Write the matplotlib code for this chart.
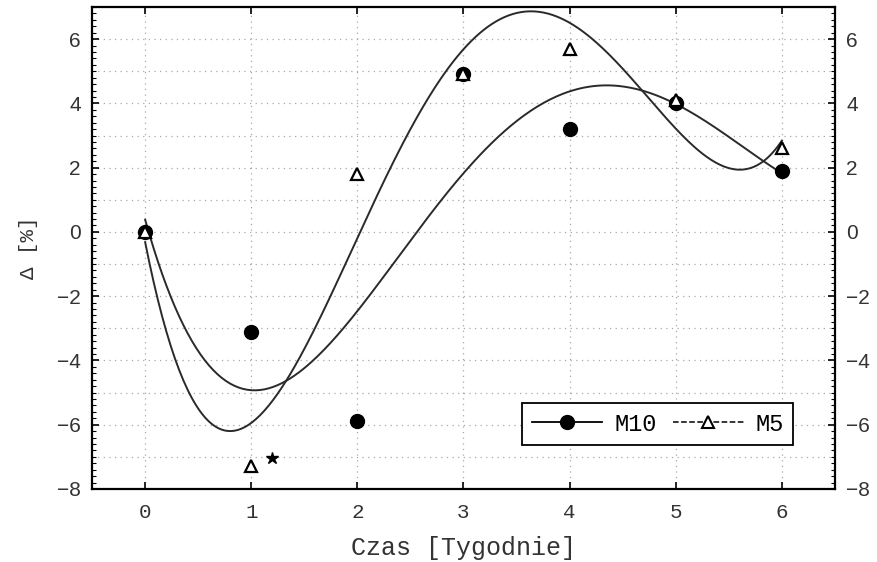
import numpy as np
import matplotlib.pyplot as plt
from matplotlib.lines import Line2D
from matplotlib.ticker import MultipleLocator

# Data
weeks = [0, 1, 2, 3, 4, 5, 6]
m10 = [0.0, -3.1, -5.9, 4.9, 3.2, 4.0, 1.9]
m5 = [0.0, -7.3, 1.8, 4.9, 5.7, 4.1, 2.6]

# significance mark near week 1
star_x = 1.2
star_y = -7.05

fit_degree = 4

mono = 'Liberation Mono'
sans = 'Liberation Sans'
grid_style = dict(color='#a8a8a8', linestyle=(0, (1, 3.5)), linewidth=0.9)

fig = plt.figure(figsize=(8.77, 5.62), dpi=100)
ax = fig.add_axes([0.105, 0.130, 0.847, 0.8575])

ax.set_xlim(-0.5, 6.5)
ax.set_ylim(-8, 7)
ax.set_xticks(weeks)
ax.set_yticks(np.arange(-8, 7, 2))
ax.yaxis.set_minor_locator(MultipleLocator(0.2))

# dotted grid: every week, every unit on y
ax.grid(True, which='major', **grid_style)
for yv in np.arange(-7, 7, 2):
    ax.axhline(yv, zorder=0, **grid_style)

# 4th order polynomial fits over the data
xs = np.linspace(0, 6, 300)
p10 = np.polyfit(weeks, m10, fit_degree)
p5 = np.polyfit(weeks, m5, fit_degree)
ax.plot(xs, np.polyval(p10, xs), color='#2a2a2a', lw=1.4, zorder=2)
ax.plot(xs, np.polyval(p5, xs), color='#2a2a2a', lw=1.4, zorder=2)

# Points
ax.plot(weeks, m10, 'o', color='black', markersize=10, zorder=3, linestyle='none')
ax.plot(weeks, m5, '^', markerfacecolor='white', markeredgecolor='black',
        markeredgewidth=1.6, markersize=9, zorder=4, linestyle='none')
ax.plot([star_x], [star_y], '*', color='black', markersize=9, zorder=4)

# Ticks on all sides
ax.tick_params(axis='both', which='both', direction='in', top=True, right=True,
               labelright=True)
ax.tick_params(which='major', length=5, width=1.2)
ax.tick_params(which='minor', length=3, width=0.8)
ax.tick_params(axis='x', pad=10, labelsize=15)
ax.tick_params(axis='y', pad=8, labelsize=15)
for lab in ax.get_xticklabels():
    lab.set_fontfamily(mono)
    lab.set_color('#333333')
for lab in ax.get_yticklabels() + ax.yaxis.get_ticklabels(which='major'):
    lab.set_fontfamily(sans)
    lab.set_color('#333333')
for lab in ax.yaxis.get_majorticklabels():
    lab.set_fontfamily(sans)
for t in ax.yaxis.get_major_ticks():
    t.label2.set_fontfamily(sans)
    t.label2.set_color('#333333')
for spine in ax.spines.values():
    spine.set_linewidth(1.6)

ax.set_xlabel('Czas [Tygodnie]', fontfamily=mono, fontsize=18, color='#333333', labelpad=10)
ax.set_ylabel('Δ [%]', fontfamily=mono, fontsize=15, color='#333333', labelpad=14)

handles = [
    Line2D([], [], color='black', lw=1.3, marker='o', markersize=10),
    Line2D([], [], color='black', lw=1.1, linestyle='--', marker='^',
           markerfacecolor='white', markeredgewidth=1.5, markersize=8),
]
leg = ax.legend(handles, ['M10', 'M5'], ncol=2, loc='lower left',
                bbox_to_anchor=(0.579, 0.091, 0.365, 0.09), mode='expand',
                prop={'family': mono, 'size': 17}, fancybox=False,
                edgecolor='black', framealpha=1, handlelength=3.0,
                borderaxespad=0, columnspacing=0.8, handletextpad=0.5)
leg.get_frame().set_linewidth(1.3)

fig.savefig('out.png', dpi=100)
